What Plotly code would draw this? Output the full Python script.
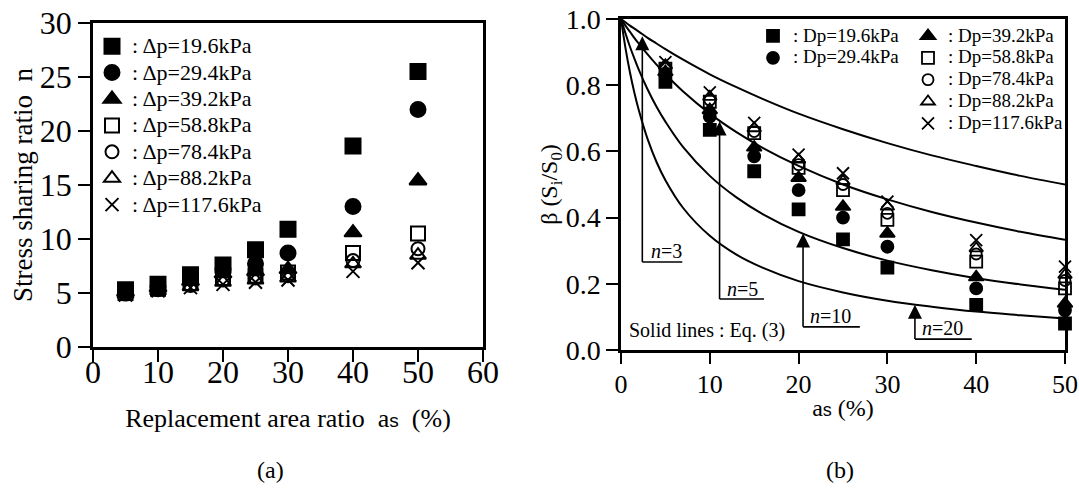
import plotly.graph_objects as go

W, H = 1079, 488
FONT = "Liberation Serif"

# ---------------- data: panel (a) ----------------
as_a = [5, 10, 15, 20, 25, 30, 40, 50]
n_19_6 = [5.3, 5.8, 6.7, 7.6, 9.0, 10.9, 18.6, 25.5]
n_29_4 = [5.2, 5.6, 6.4, 7.2, 7.7, 8.7, 13.0, 22.0]
n_39_2 = [5.1, 5.5, 6.1, 6.8, 7.0, 7.2, 10.6, 15.4]
n_58_8 = [5.0, 5.4, 5.9, 6.4, 6.6, 6.9, 8.7, 10.5]
n_78_4 = [4.9, 5.3, 5.7, 6.2, 6.4, 6.6, 8.0, 9.1]
n_88_2 = [4.9, 5.2, 5.6, 6.0, 6.2, 6.4, 7.7, 8.5]
n_117_6 = [4.8, 5.2, 5.5, 5.8, 6.0, 6.2, 7.0, 7.8]

# ---------------- data: panel (b) ----------------
as_b = [5, 10, 15, 20, 25, 30, 40, 50]
b_19_6 = [0.81, 0.665, 0.54, 0.425, 0.334, 0.249, 0.136, 0.08]
b_29_4 = [0.83, 0.705, 0.585, 0.483, 0.40, 0.312, 0.186, 0.12]
b_39_2 = [0.84, 0.725, 0.612, 0.52, 0.433, 0.352, 0.22, 0.14]
b_58_8 = [0.85, 0.75, 0.655, 0.55, 0.483, 0.393, 0.267, 0.186]
b_78_4 = [0.855, 0.755, 0.66, 0.56, 0.50, 0.413, 0.29, 0.21]
b_88_2 = [0.86, 0.765, 0.67, 0.575, 0.51, 0.433, 0.307, 0.227]
b_117_6 = [0.87, 0.778, 0.686, 0.59, 0.534, 0.448, 0.332, 0.252]

# Eq. (3) curves
curve_as = [0, 0.5, 1, 1.5, 2, 3, 4, 5, 7, 10, 13, 16, 20, 25, 30, 35, 40, 45, 50]
curve_n3 = [1.0, 0.990, 0.980, 0.971, 0.962, 0.943, 0.926, 0.909, 0.877, 0.833, 0.794,
            0.758, 0.714, 0.667, 0.625, 0.588, 0.556, 0.526, 0.500]
curve_n5 = [1.0, 0.980, 0.962, 0.943, 0.926, 0.893, 0.862, 0.833, 0.781, 0.714, 0.658,
            0.610, 0.556, 0.500, 0.455, 0.417, 0.385, 0.357, 0.333]
curve_n10 = [1.0, 0.957, 0.917, 0.881, 0.847, 0.787, 0.735, 0.690, 0.613, 0.526, 0.461,
             0.410, 0.357, 0.308, 0.270, 0.241, 0.217, 0.198, 0.182]
curve_n20 = [1.0, 0.913, 0.840, 0.778, 0.725, 0.637, 0.568, 0.513, 0.429, 0.345, 0.288,
             0.248, 0.208, 0.174, 0.149, 0.131, 0.116, 0.105, 0.095]

pressures = ["19.6", "29.4", "39.2", "58.8", "78.4", "88.2", "117.6"]
symbols = ["square", "circle", "triangle-up", "square-open", "circle-open",
           "triangle-up-open", "x-thin-open"]
series_a = [n_19_6, n_29_4, n_39_2, n_58_8, n_78_4, n_88_2, n_117_6]
series_b = [b_19_6, b_29_4, b_39_2, b_58_8, b_78_4, b_88_2, b_117_6]

# n-labels with elbow arrows on panel (b)
n_labels = ["3", "5", "10", "20"]
arrow_as = [2.4, 11.1, 20.5, 33.1]
elbow_beta = [0.266, 0.154, 0.070, 0.033]
elbow_end = [6.9, 16.1, 26.9, 39.5]
tip_beta = [0.948, 0.69, 0.352, 0.137]
label_as = [5.1, 13.7, 23.6, 36.2]
label_beta = [0.298, 0.185, 0.102, 0.066]

fig = go.Figure()

size_a = {"square": 15, "circle": 15, "triangle-up": 15, "square-open": 14,
          "circle-open": 13, "triangle-up-open": 14, "x-thin-open": 13}
size_b = {"square": 12, "circle": 12, "triangle-up": 13, "square-open": 12,
          "circle-open": 11, "triangle-up-open": 12, "x-thin-open": 12}

for p, sym, ys in zip(pressures, symbols, series_a):
    fig.add_trace(go.Scatter(
        x=as_a, y=ys, mode="markers",
        name="<span style='font-size:22px'>: \u0394p=" + p + "kPa</span>",
        marker=dict(symbol=sym, size=size_a[sym], color="black",
                    line=dict(color="black", width=2)),
        xaxis="x", yaxis="y", legend="legend", cliponaxis=False))

for ys in [curve_n3, curve_n5, curve_n10, curve_n20]:
    fig.add_trace(go.Scatter(
        x=curve_as, y=ys, mode="lines", line=dict(color="black", width=2, shape="spline"),
        showlegend=False, xaxis="x2", yaxis="y2", hoverinfo="skip"))

# arrow heads of the n-labels
fig.add_trace(go.Scatter(
    x=arrow_as, y=tip_beta, mode="markers",
    marker=dict(symbol="arrow-up", size=14, color="black", line=dict(width=0)),
    showlegend=False, xaxis="x2", yaxis="y2", hoverinfo="skip", cliponaxis=False))

for i, (p, sym, ys) in enumerate(zip(pressures, symbols, series_b)):
    fig.add_trace(go.Scatter(
        x=as_b, y=ys, mode="markers",
        name="<span style='font-size:19px'>: Dp=" + p + "kPa</span>",
        marker=dict(symbol=sym, size=size_b[sym], color="black",
                    line=dict(color="black", width=1.8)),
        xaxis="x2", yaxis="y2", legend="legend2" if i < 2 else "legend3",
        cliponaxis=False))

axis_common = dict(showgrid=False, zeroline=False, showline=True, linecolor="black",
                   linewidth=2.5, mirror=True, ticks="outside", tickcolor="black",
                   tickwidth=2, color="black", automargin=False)

annotations = []
shapes = []
for lab, ax_, eb, ee, tb, lx, ly in zip(n_labels, arrow_as, elbow_beta, elbow_end,
                                        tip_beta, label_as, label_beta):
    shapes.append(dict(type="line", xref="x2", yref="y2", x0=ax_, x1=ax_, y0=eb, y1=tb - 0.02,
                       line=dict(color="black", width=1.6)))
    shapes.append(dict(type="line", xref="x2", yref="y2", x0=ax_, x1=ee, y0=eb, y1=eb,
                       line=dict(color="black", width=1.6)))
    annotations.append(dict(x=lx, y=ly, xref="x2", yref="y2", text="<i>n</i>=" + lab,
                            xanchor="center", yanchor="middle",
                            showarrow=False, font=dict(family=FONT, size=20, color="black")))


def ptxt(x, y, text, size, angle=0):
    return dict(x=x / W, y=1 - y / H, xref="paper", yref="paper", text=text,
                xanchor="center", yanchor="middle", textangle=angle, showarrow=False,
                font=dict(family=FONT, size=size, color="black"))


annotations += [
    dict(x=0.7, y=0.06, xref="x2", yref="y2", xanchor="left", yanchor="middle",
         text="Solid lines : Eq. (3)", showarrow=False,
         font=dict(family=FONT, size=20, color="black")),
    ptxt(270, 470, "(a)", 24),
    ptxt(840, 470, "(b)", 24),
]

fig.update_layout(
    width=W, height=H, margin=dict(l=0, r=0, t=0, b=0),
    paper_bgcolor="white", plot_bgcolor="white",
    font=dict(family=FONT, color="black"),
    xaxis=dict(axis_common, domain=[93 / W, 483 / W], range=[0, 60],
               tickvals=[0, 10, 20, 30, 40, 50, 60], ticklen=12, ticklabelstandoff=-17,
               tickfont=dict(size=32), anchor="y",
               title=dict(text="Replacement area ratio  a<span style='font-family:Liberation Sans;font-size:19px'>s</span>  (%)",
                          font=dict(size=26), standoff=20)),
    yaxis=dict(axis_common, domain=[1 - 347 / H, 1 - 23 / H], range=[0, 30],
               tickvals=[0, 5, 10, 15, 20, 25, 30], ticklen=12, tickfont=dict(size=32),
               anchor="x",
               title=dict(text="Stress sharing ratio  n", font=dict(size=27), standoff=0)),
    xaxis2=dict(axis_common, domain=[621 / W, 1065 / W], range=[0, 50],
                tickvals=[0, 10, 20, 30, 40, 50], ticklen=11, ticklabelstandoff=-2,
                tickfont=dict(size=26), anchor="y2",
                title=dict(text="a<span style='font-family:Liberation Sans;font-size:18px'>s</span> (%)",
                           font=dict(size=24), standoff=2)),
    yaxis2=dict(axis_common, domain=[1 - 350 / H, 1 - 19 / H], range=[0, 1],
                tickvals=[0, 0.2, 0.4, 0.6, 0.8, 1.0],
                ticktext=["0.0", "0.2", "0.4", "0.6", "0.8", "1.0"],
                ticklen=12, tickfont=dict(size=28), anchor="x2",
                title=dict(text="\u03b2 (S<sub>i</sub>/S<sub>0</sub>)", font=dict(size=24),
                           standoff=0)),
    legend=dict(x=92 / W, y=1 - 28 / H, xanchor="left", yanchor="top",
                bgcolor="rgba(0,0,0,0)", font=dict(family=FONT, size=18, color="black"),
                itemsizing="trace"),
    legend2=dict(x=753 / W, y=1 - 20 / H, xanchor="left", yanchor="top",
                 bgcolor="rgba(0,0,0,0)", font=dict(family=FONT, size=14.5, color="black")),
    legend3=dict(x=908 / W, y=1 - 20 / H, xanchor="left", yanchor="top",
                 bgcolor="rgba(0,0,0,0)", font=dict(family=FONT, size=14.5, color="black")),
    annotations=annotations, shapes=shapes, showlegend=True,
)

fig.write_html("out.html")
